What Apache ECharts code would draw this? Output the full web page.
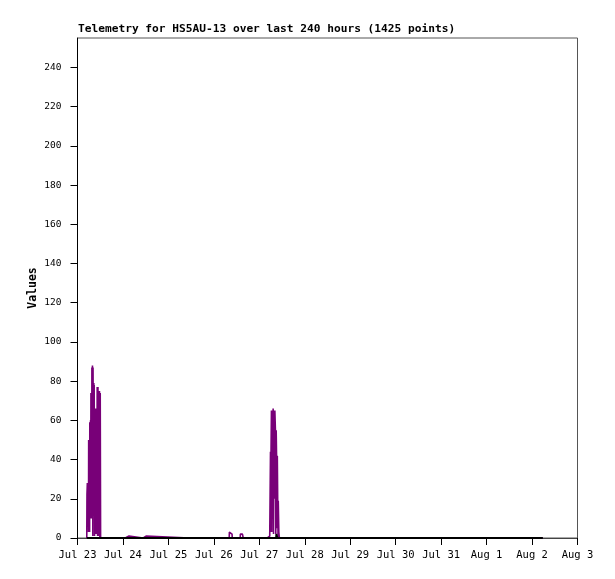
<!DOCTYPE html>
<html>
<head>
<meta charset="utf-8">
<script src="https://cdn.jsdelivr.net/npm/echarts@6/dist/echarts.min.js"></script>
<style>html,body{margin:0;padding:0;background:#fff}#c{width:615px;height:579px}</style>
</head>
<body>
<div id="c"></div>
<script>
// Tick labels (x axis: one per day, hours since Jul 23 00:00)
const dayLabels = ["Jul 23","Jul 24","Jul 25","Jul 26","Jul 27","Jul 28","Jul 29","Jul 30","Jul 31","Aug 1","Aug 2","Aug 3"];
const yTicks = [0,20,40,60,80,100,120,140,160,180,200,220,240];

// Telemetry channel (purple): hours since Jul 23 00:00, and values
const telemetryHours = [
  4.9,5.0,5.2,5.4,5.6,5.8,5.9,6.1,6.3,6.4,6.5,6.7,6.9,7.0,7.1,7.3,7.4,7.5,7.6,7.8,7.9,8.1,8.2,8.4,8.6,8.7,8.8,9.0,9.2,9.4,9.6,9.8,10.0,10.2,10.4,10.6,10.8,11.0,11.2,11.4,11.6,11.8,12.0,12.2,12.3,
  25.2,25.3,27.2,27.3,34.7,34.8,36.2,36.3,59.1,59.2,59.5,59.6,73.4,73.5,73.8,73.9,
  80.1,80.2,80.9,81.0,81.6,81.7,85.9,86.0,87.1,87.2,87.4,87.5,100.2,100.3,101.0,101.1,
  101.2,101.5,101.7,101.9,102.0,102.2,102.4,102.6,102.8,103.0,103.3,103.5,103.7,104.0,104.2,104.5,104.7,104.9,105.1,105.4,105.5,105.7,105.9,106.0,106.3,106.6,
  245.7
];
const telemetryValues = [
  0,22,28,21,28,3,50,17,49,3,59,10,60,30,74,10,74,17,87,20,88,1,87,40,79,13,78,1,66,3,66,2,66,3,77,1,77,2,75,1,75,0,74,0,0,
  0,1,1,0,0,1,1,0,0,1,1,0,0,1,1,0,
  0,3,3,2,2,0,0,2,2,1,1,0,0,1,1,0,
  0,1,0,44,3,45,65,3,65,10,66,2,65,20,65,55,2,55,42,5,42,19,0,19,3,0,
  0
];

// Second channel (black), flat at zero apart from one small blip
const baselineHours = [4.9,104.9,105.0,105.4,105.5,245.7];
const baselineValues = [0,0,2,2,0,0];

const zip = (xs, ys) => xs.map((x, i) => [x, ys[i]]);

const chart = echarts.init(document.getElementById('c'), null, {renderer: 'canvas'});
chart.setOption({
  animation: false,
  backgroundColor: '#ffffff',
  title: {
    text: 'Telemetry for HS5AU-13 over last 240 hours (1425 points)',
    left: 78, top: 24, padding: 0,
    textStyle: {fontFamily: 'DejaVu Sans Mono', fontWeight: 'bold', fontSize: 11.2, color: '#000'}
  },
  grid: {
    left: 77.5, right: 37.5, top: 38, bottom: 41,
    show: true, borderColor: '#555', borderWidth: 1, backgroundColor: 'transparent'
  },
  xAxis: {
    type: 'value', min: 0, max: 264, interval: 24,
    axisLine: {show: true, onZero: false, lineStyle: {color: '#444', width: 1}},
    axisTick: {show: true, length: 7, inside: false, lineStyle: {color: '#000', width: 1}},
    splitLine: {show: false},
    axisLabel: {
      margin: 12, color: '#000', fontFamily: 'DejaVu Sans Mono', fontSize: 10.5,
      formatter: v => dayLabels[Math.round(v / 24)] || ''
    }
  },
  yAxis: {
    type: 'value', min: 0, max: 255,
    name: 'Values', nameLocation: 'middle', nameGap: 38, nameRotate: 90,
    nameMoveOverlap: false,
    nameTextStyle: {fontFamily: 'DejaVu Sans Mono', fontWeight: 'bold', fontSize: 11.5, color: '#000'},
    axisLine: {show: true, lineStyle: {color: '#000', width: 1}},
    axisTick: {show: true, length: 7, customValues: yTicks, lineStyle: {color: '#000', width: 1}},
    splitLine: {show: false},
    axisLabel: {
      customValues: yTicks, margin: 16, color: '#000',
      fontFamily: 'DejaVu Sans Mono', fontSize: 9.5
    }
  },
  series: [
    {
      type: 'line', name: 'ch1', data: zip(telemetryHours, telemetryValues),
      symbol: 'none', z: 2, clip: false,
      lineStyle: {color: '#780078', width: 1.6, join: 'bevel'}
    },
    {
      type: 'line', name: 'ch2', data: zip(baselineHours, baselineValues),
      symbol: 'none', z: 3, clip: false,
      lineStyle: {color: '#000', width: 2}
    }
  ]
});
</script>
</body>
</html>
